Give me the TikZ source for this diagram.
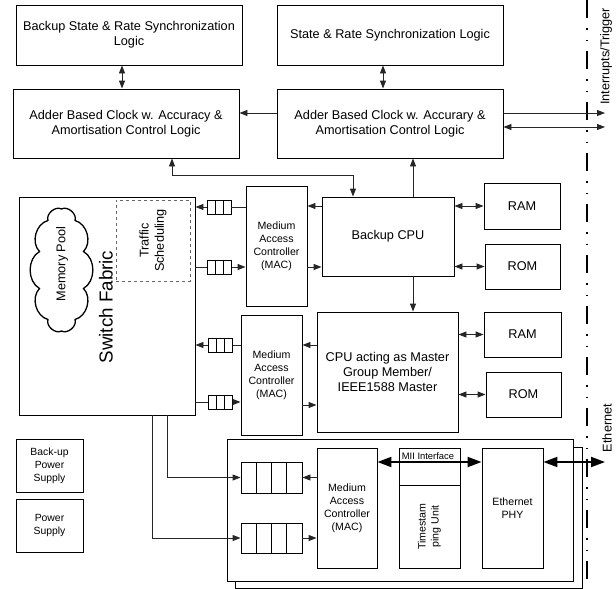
\documentclass[tikz,border=0pt]{standalone}
\usepackage{fontspec}
\setmainfont{Liberation Sans}
\usetikzlibrary{arrows.meta,calc}
\newcommand\fmain{\fontsize{12.7}{15.3}\selectfont}
\newcommand\fsmall{\fontsize{10.6}{13}\selectfont}
\newcommand\fpower{\fontsize{10.4}{13}\selectfont}
\newcommand\ftiny{\fontsize{9.4}{11}\selectfont}
\newcommand\fbig{\fontsize{18.8}{22}\selectfont}
\begin{document}
\begin{tikzpicture}[x=1pt,y=-1pt,
  lw/.style={line width=0.9pt},
  box/.style={draw, lw, align=center, inner sep=1pt, font=\fmain},
  sbox/.style={draw, lw, align=center, inner sep=1pt, font=\fsmall},
  queue/.style={draw, lw, inner sep=0pt, path picture={\foreach \i in {1,...,#1}{\draw[lw] ($(path picture bounding box.south west)!{\i/(#1+1)}!(path picture bounding box.south east)$) -- ($(path picture bounding box.north west)!{\i/(#1+1)}!(path picture bounding box.north east)$);}}},
  conn/.style={lw, color=black!85},
  arr/.style={conn, -{Triangle[length=8pt,width=6pt]}},
  darr/.style={conn, {Triangle[length=8pt,width=6pt]}-{Triangle[length=8pt,width=6pt]}},
  tdarr/.style={line width=2pt, {Triangle[length=14pt,width=10pt]}-{Triangle[length=14pt,width=10pt]}},
  dashdot/.style={line width=1.9pt, dash pattern=on 18pt off 10pt on 1.5pt off 10pt on 1.5pt off 10pt, dash phase=0pt}
]
\useasboundingbox (0,0) rectangle (616,589);

% separator line
\draw[dashdot] (587,0) -- (587,589);

% top blocks
\node[box, minimum width=226, minimum height=60] (bsr) at (129,35) {Backup State \& Rate Synchronization\\Logic};
\node[box, minimum width=226, minimum height=60] (sr) at (390,35) {State \& Rate Synchronization Logic};
\node[box, minimum width=226, minimum height=69] (addL) at (126,123.5) {Adder Based Clock w. Accuracy \&\\Amortisation Control Logic};
\node[box, minimum width=226, minimum height=69] (addR) at (390,123.5) {Adder Based Clock w. Accurary \&\\Amortisation Control Logic};

% switch fabric
\node[draw, lw, minimum width=176, minimum height=218] (sf) at (107,306) {};
\node[draw, lw, dashed, color=black!60, minimum width=74, minimum height=81] (ts) at (153,240.5) {};
\node[rotate=90, align=center, font=\fmain, text=black] (tstxt) at (153,240.5) {Traffic\\Scheduling};
% memory pool cloud
\draw[line width=1.3pt] (61.5,209) to[bend left=70] (75,220.5) to[bend left=60] (83.5,251.5)
  to[bend left=60] (83.5,288.5) to[bend left=60] (75,319.5) to[bend left=70] (61.5,331)
  to[bend left=70] (48,319.5) to[bend left=60] (39.5,288.5) to[bend left=60] (39.5,251.5)
  to[bend left=60] (48,220.5) to[bend left=70] cycle;
\node[rotate=90, font=\fmain] (pool) at (62,264) {Memory Pool};
\node[rotate=90, font=\fbig] (sflab) at (106,307) {Switch Fabric};

% MACs
\node[sbox, minimum width=61, minimum height=120] (mac1) at (276.5,246) {Medium\\Access\\Controller\\(MAC)};
\node[sbox, minimum width=61, minimum height=120] (mac2) at (271.5,375) {Medium\\Access\\Controller\\(MAC)};

% small queues
\node[queue=2, minimum width=24, minimum height=14] (q1) at (219,207) {};
\node[queue=2, minimum width=24, minimum height=14] (q2) at (219.5,267) {};
\node[queue=2, minimum width=24, minimum height=14] (q3) at (220.5,345) {};
\node[queue=2, minimum width=24, minimum height=14] (q4) at (220.5,402) {};

% CPUs and memories
\node[box, minimum width=132, minimum height=79] (bcpu) at (388,236.5) {Backup CPU};
\node[box, minimum width=141, minimum height=120] (mcpu) at (387.5,372) {CPU acting as Master\\Group Member/\\IEEE1588 Master};
\node[box, minimum width=76, minimum height=46] (ram1) at (522,206) {RAM};
\node[box, minimum width=75, minimum height=45] (rom1) at (522.5,266.5) {ROM};
\node[box, minimum width=77, minimum height=45] (ram2) at (522.5,334.5) {RAM};
\node[box, minimum width=75, minimum height=45] (rom2) at (523.5,394.5) {ROM};

% power supplies
\node[draw, lw, align=center, font=\fpower, minimum width=67, minimum height=53] (bps) at (49.5,465.5) {Back-up\\Power\\Supply};
\node[draw, lw, align=center, font=\fpower, minimum width=67, minimum height=53] (ps) at (49.5,525.5) {Power\\Supply};

% board
\node[draw, lw, fill=white, minimum width=347, minimum height=141] (boardb) at (408.5,517.5) {};
\node[draw, lw, fill=white, minimum width=346, minimum height=142] (board) at (400,510) {};
\node[queue=3, minimum width=61, minimum height=31] (bq1) at (271.5,477.5) {};
\node[queue=3, minimum width=61, minimum height=30] (bq2) at (271.5,538) {};
\node[sbox, minimum width=60, minimum height=120] (mac3) at (347,508) {Medium\\Access\\Controller\\(MAC)};
\node[draw, lw, minimum width=61, minimum height=120] (tsu) at (429.5,508) {};
\coordinate (tsdiv) at (0,485);
\draw[lw] (tsu.west |- tsdiv) -- (tsu.east |- tsdiv);
\node[rotate=90, align=center, font=\fsmall, inner sep=0pt] (tstxt2) at (429.5,526.5) {\fontsize{10.6}{10.5}\selectfont Timestam\\ping Unit};
\node[sbox, minimum width=61, minimum height=120] (phy) at (512.5,508) {Ethernet\\PHY};

% connectors top
\draw[darr] ([xshift=-7pt]bsr.south) -- ([xshift=-7pt]bsr.south |- addL.north);
\draw[darr] ([xshift=-7pt]sr.south) -- ([xshift=-7pt]sr.south |- addR.north);
\draw[arr] ([yshift=10.5pt]addR.west) -- ([yshift=10.5pt]addR.west -| addL.east);
\coordinate (ir1) at (605,113);
\coordinate (ir2) at (605,127);
\draw[arr] (addR.east |- ir1) -- (ir1);
\draw[darr] (addR.east |- ir2) -- (ir2);
\draw[darr] ([xshift=46pt]addL.south) -- ++(0,17) -| ([xshift=-35pt]bcpu.north);
\draw[arr] ([xshift=25pt]bcpu.north) -- ([xshift=25pt]bcpu.north |- addR.south);
\draw[arr] ([xshift=25pt]bcpu.south) -- ([xshift=25pt]bcpu.south |- mcpu.north);

% CPU <-> MAC
\draw[arr] ([yshift=30.5pt]bcpu.west) -- ([yshift=30.5pt]bcpu.west -| mac1.east);
\draw[arr] ([yshift=-30.5pt]bcpu.west -| mac1.east) -- ([yshift=-30.5pt]bcpu.west);
\draw[arr] (mcpu.west |- q3) -- (mac2.east |- q3);
\draw[arr] ([yshift=-33pt]mcpu.west -| mac2.east) -- ([yshift=-33pt]mcpu.west);

% memories
\draw[darr] (bcpu.east |- ram1) -- (ram1.west);
\draw[darr] (bcpu.east |- rom1) -- (rom1.west);
\draw[darr] (mcpu.east |- ram2) -- (ram2.west);
\draw[darr] (mcpu.east |- rom2) -- (rom2.west);

% queues MAC <-> switch fabric
\draw[conn] (mac1.west |- q1) -- (q1.east);
\draw[arr] (q1.west) -- (q1.west -| sf.east);
\draw[conn] (sf.east |- q2) -- (q2.west);
\draw[arr] (q2.east) -- (q2.east -| mac1.west);
\draw[conn] (mac2.west |- q3) -- (q3.east);
\draw[arr] (q3.west) -- (q3.west -| sf.east);
\draw[conn] (sf.east |- q4) -- (q4.west);
\draw[arr] (q4.east) -- (q4.east -| mac2.west);

% switch fabric to board queues
\draw[arr] ([xshift=60pt]sf.south) |- (bq1.west);
\draw[arr] ([xshift=45pt]sf.south) |- (bq2.west);
\draw[arr] (mac3.west |- bq1) -- (bq1.east);
\draw[arr] (bq2.east) -- (bq2.east -| mac3.west);

% MII and Ethernet
\draw[tdarr] ([yshift=46pt]mac3.east) -- ([yshift=46pt]mac3.east -| phy.west);
\node[font=\ftiny, anchor=south, inner sep=1pt] (mii) at (428,461) {MII Interface};
\coordinate (eth) at (605,462);
\draw[tdarr] (phy.east |- eth) -- (eth);

% side labels
\node[rotate=90, font=\fmain, inner sep=0pt] (irq) at (606,56.5) {Interrupts/Trigger};
\node[rotate=90, font=\fmain, inner sep=0pt] (ethl) at (607,428) {Ethernet};
\end{tikzpicture}
\end{document}
